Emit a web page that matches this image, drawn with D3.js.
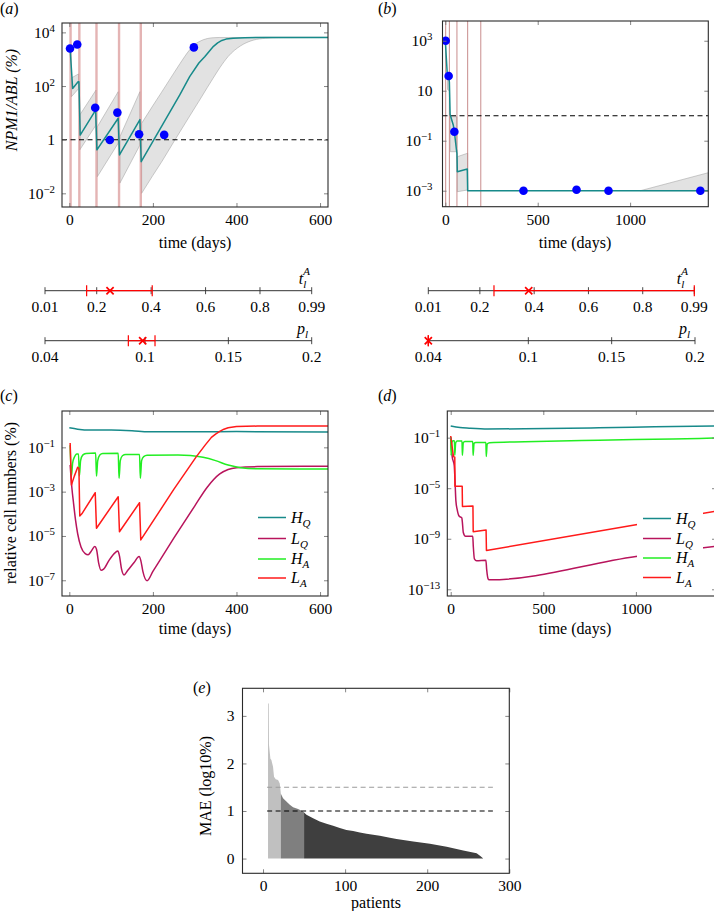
<!DOCTYPE html>
<html><head><meta charset="utf-8">
<script src="https://cdn.jsdelivr.net/npm/d3@7"></script>
<style>body{margin:0;background:#fff} svg{display:block}</style>
</head><body>
<svg id="c" width="714" height="911"></svg>
<script>
// ================= DATA =================
// Panel (a): NPM1/ABL (%) for patient A, values are log10(%)
const aTreatDays = [3, 24, 65, 119, 171];
const aDotDays = [1.7, 19, 62, 97, 115, 167, 227, 298];
const aDotLog = [3.40, 3.55, 1.19, -0.01, 1.01, 0.20, 0.18, 3.44];
const aLineDays = [0, 2, 8, 21, 23, 26, 63, 66, 117, 120, 169, 172, 264, 288, 310, 324, 335, 345, 355, 365, 375, 392, 420, 450, 620];
const aLineLog = [3.42, 3.38, 1.91, 2.16, 2.16, 0.17, 1.1, -0.38, 0.8, -0.57, 0.75, -0.82, 1.66, 2.35, 2.86, 3.09, 3.3, 3.48, 3.61, 3.7, 3.75, 3.78, 3.8, 3.81, 3.81];
const aBandSeg = [1, 1, 2, 2, 3, 3, 4, 4, 5, 5, 5, 5, 5, 5, 5, 5, 5, 5, 5, 5, 5, 5, 5, 5, 5];
const aBandDays = [5, 22, 25, 64, 67, 117, 121, 169, 173, 200, 220, 250, 265, 288, 300, 310, 330, 344, 360, 380, 410, 440, 470, 500, 620];
const aBandLo = [1.6, 1.9, -0.38, 0.55, -1.38, -0.13, -1.62, -0.2, -2.0, -1.33, -0.85, -0.08, 0.30, 0.88, 1.18, 1.43, 1.94, 2.29, 2.68, 3.1, 3.5, 3.71, 3.78, 3.8, 3.81];
const aBandHi = [2.3, 2.45, 0.92, 1.85, 0.48, 1.79, 0.11, 1.79, 0.61, 1.27, 1.75, 2.48, 2.84, 3.35, 3.55, 3.65, 3.77, 3.8, 3.81, 3.81, 3.81, 3.81, 3.82, 3.82, 3.82];

// Panel (b): patient B
const bTreatDays = [2, 22, 63, 121, 192];
const bDotDays = [2, 18, 49, 423, 710, 883, 1380];
const bDotLog = [3.0, 1.59, -0.64, -3.0, -2.96, -3.0, -3.0];
const bLineDays = [0, 10, 18, 22, 26, 43, 49, 61, 63, 65, 119, 121, 1423];
const bLineLog = [3.0, 1.75, 1.59, 1.35, 0.05, -0.37, -0.64, -1.41, -1.5, -2.24, -2.13, -3.0, -3.0];
const bBandSeg = [1, 1, 2, 2, 3, 3, 4, 4];
const bBandDays = [12, 22, 27, 63, 65, 121, 1055, 1423];
const bBandLo = [1.05, 1.0, -1.44, -1.44, -3.04, -2.97, -3.0, -3.0];
const bBandHi = [1.7, 1.6, -0.04, -0.04, -1.64, -1.5, -3.0, -2.28];

// Slider axes (parameter estimates)
const tTicks = [0.01, 0.2, 0.4, 0.6, 0.8, 0.99];
const pTicks = [0.04, 0.1, 0.15, 0.2];
const aTInterval = [0.163, 0.404], aTBest = 0.249;
const aPInterval = [0.09, 0.106], aPBest = 0.0986;
const bTInterval = [0.252, 0.99], bTBest = 0.38;
const bPInterval = [0.04, 0.04], bPBest = 0.04;

// Panel (c): relative cell numbers (log10 %), patient A
const cSeries = ["HQ", "LQ", "HA", "LA"];
const cHQDays = [0, 20, 50, 100, 150, 190, 250, 400, 620];
const cHQLog = [-0.12, -0.18, -0.22, -0.22, -0.25, -0.3, -0.3, -0.29, -0.31];
const cLQDays = [2, 6, 10, 15, 20, 28, 38, 45, 52, 61, 65, 70, 76, 82, 95, 110, 116, 120, 125, 131, 140, 155, 167, 171, 176, 186, 200, 250, 300, 330, 360, 380, 400, 450, 620];
const cLQLog = [-1.8, -2.8, -3.5, -4.3, -4.9, -5.5, -5.8, -5.85, -5.7, -5.48, -5.6, -6.2, -6.55, -6.5, -6.1, -5.75, -5.68, -5.9, -6.5, -6.76, -6.55, -6.2, -5.93, -6.1, -6.6, -7.02, -6.6, -5.1, -3.65, -2.8, -2.2, -2.0, -1.92, -1.87, -1.85];
const cHADays = [2, 5, 8, 12, 18, 22, 24, 27, 32, 40, 63, 65, 68, 73, 80, 117, 119, 122, 127, 135, 168, 170, 173, 178, 186, 260, 290, 320, 350, 380, 410, 450, 620];
const cHALog = [-0.9, -2.3, -1.7, -1.45, -1.3, -1.3, -2.3, -1.6, -1.35, -1.28, -1.26, -2.3, -1.6, -1.35, -1.28, -1.27, -2.4, -1.6, -1.38, -1.32, -1.32, -2.4, -1.6, -1.42, -1.36, -1.35, -1.37, -1.45, -1.6, -1.8, -1.92, -1.97, -1.98];
const cLADays = [2, 5, 12, 20, 23, 25, 30, 62, 65, 117, 120, 168, 171, 250, 304, 325, 340, 350, 360, 370, 380, 400, 450, 620];
const cLALog = [-0.8, -2.7, -2.3, -1.9, -1.95, -4.1, -4.0, -3.05, -4.65, -3.23, -4.81, -3.5, -5.18, -2.9, -1.42, -0.9, -0.55, -0.4, -0.28, -0.18, -0.12, -0.06, -0.04, -0.04];

// Panel (d): relative cell numbers (log10 %), patient B
const dHQDays = [0, 50, 100, 200, 400, 800, 1100, 1430];
const dHQLog = [-0.08, -0.2, -0.25, -0.31, -0.3, -0.22, -0.14, -0.07];
const dLQDays = [0, 8, 19, 22, 28, 35, 45, 60, 63, 68, 80, 119, 122, 128, 140, 190, 194, 203, 210, 1000, 1430];
const dLQLog = [-1.0, -2.5, -3.2, -4.0, -6.0, -6.7, -7.2, -7.35, -7.7, -8.5, -8.8, -8.8, -9.6, -10.6, -10.75, -10.7, -11.4, -12.2, -12.25, -10.4, -9.6];
const dHADays = [0, 2, 6, 12, 20, 22, 27, 35, 61, 63, 68, 76, 119, 121, 126, 135, 190, 192, 197, 210, 400, 800, 1200, 1430];
const dHALog = [-0.95, -2.4, -1.4, -1.25, -1.25, -2.4, -1.4, -1.27, -1.27, -2.4, -1.4, -1.3, -1.3, -2.4, -1.45, -1.38, -1.38, -2.5, -1.5, -1.4, -1.32, -1.2, -1.1, -1.03];
const dLADays = [0, 15, 22, 23, 62, 63.5, 120, 121.5, 191, 193, 1000, 1430];
const dLALog = [-0.87, -2.5, -2.55, -4.85, -4.85, -6.45, -6.4, -8.45, -8.3, -9.93, -7.9, -6.82];

// Panel (e): MAE per patient (sorted)
const ePatients = [6.1, 7.0, 7.3, 9, 10.2, 12.2, 13.4, 15.5, 18.3, 20.4, 21.6, 24.4, 28.5, 32.6, 36.6, 42.7, 48.8, 50, 52.9, 61, 69.1, 77.3, 85.4, 93.5, 101.6, 109.8, 117.9, 126.1, 134.1, 142.3, 154.5, 162.7, 183, 203.3, 223.7, 243.9, 260.2, 264.3, 268.3];
const eMAE = [3.26, 3.26, 2.39, 2.1, 2.07, 1.93, 1.72, 1.67, 1.65, 1.58, 1.37, 1.27, 1.2, 1.13, 1.08, 1.04, 0.99, 0.97, 0.92, 0.85, 0.78, 0.73, 0.69, 0.64, 0.60, 0.58, 0.55, 0.52, 0.5, 0.48, 0.44, 0.41, 0.36, 0.31, 0.25, 0.17, 0.11, 0.06, 0.0];
const eGroupEdges = [6.1, 21.6, 50, 268.3];
const eGroupColors = ["#c0c0c0", "#7f7f7f", "#3f3f3f"];
const eThresholds = [1.5, 1.0];
const eThresholdColors = ["#9a9a9a", "#000"];

// ================= DRAWING =================
const FONT = "'Liberation Serif','Times New Roman',serif";
const TS = 15.5, LS = 16;
const svg = d3.select("#c");
const defs = svg.append("defs");
const TEAL = "#178a8a", LQC = "#b8145c", HAC = "#22ee22", LAC = "#ff1a1a";
const P10 = v => Math.pow(10, v);

function zip(xs, ys) { return xs.map((t, i) => ({ t, v: ys[i] })); }

function supText(sel, e) {
  sel.text(null);
  if (e === 0) { sel.append("tspan").text("1"); return; }
  if (e === 1) { sel.append("tspan").text("10"); return; }
  sel.append("tspan").text("10");
  sel.append("tspan").attr("dy", -6).attr("font-size", TS * 0.7).text(e < 0 ? "\u2212" + (-e) : String(e));
}

function styleAxis(g) {
  g.select(".domain").remove();
  g.selectAll("line").attr("stroke", "#777").attr("stroke-width", 0.9);
  g.selectAll("text").attr("font-family", FONT).attr("font-size", TS).attr("fill", "#000");
}

function axes(box, x, y, xTicks, yTicks, logY, yPad) {
  const g = svg.append("g");
  const gb = g.append("g").attr("transform", `translate(0,${box.y1})`)
    .call(d3.axisBottom(x).tickValues(xTicks).tickSizeInner(-4).tickSizeOuter(0).tickPadding(7).tickFormat(d3.format("d")));
  styleAxis(gb);
  const gt = g.append("g").attr("transform", `translate(0,${box.y0})`)
    .call(d3.axisTop(x).tickValues(xTicks).tickSizeInner(-4).tickSizeOuter(0).tickFormat(""));
  styleAxis(gt);
  const yv = logY ? yTicks.map(P10) : yTicks;
  const gl = g.append("g").attr("transform", `translate(${box.x0},0)`)
    .call(d3.axisLeft(y).tickValues(yv).tickSizeInner(-4).tickSizeOuter(0).tickPadding(yPad).tickFormat(d => String(d)));
  styleAxis(gl);
  if (logY) gl.selectAll(".tick text").each(function (d, i) { supText(d3.select(this), yTicks[i]); });
  const gr = g.append("g").attr("transform", `translate(${box.x1},0)`)
    .call(d3.axisRight(y).tickValues(yv).tickSizeInner(-4).tickSizeOuter(0).tickFormat(""));
  styleAxis(gr);
  g.append("rect").attr("x", box.x0).attr("y", box.y0).attr("width", box.x1 - box.x0).attr("height", box.y1 - box.y0)
    .attr("fill", "none").attr("stroke", "#2a2a2a").attr("stroke-width", 1.1);
}

function clip(id, box) {
  defs.append("clipPath").attr("id", id).append("rect")
    .attr("x", box.x0).attr("y", box.y0).attr("width", box.x1 - box.x0).attr("height", box.y1 - box.y0);
  return svg.append("g").attr("clip-path", `url(#${id})`);
}

function text(x, y, str, opts = {}) {
  return svg.append("text").attr("x", x).attr("y", y).attr("font-family", FONT)
    .attr("font-size", opts.size || LS).attr("text-anchor", opts.anchor || "start")
    .attr("font-style", opts.italic ? "italic" : "normal").text(str);
}

function panelLabel(x, y, letter) {
  const t = svg.append("text").attr("x", x).attr("y", y).attr("font-family", FONT).attr("font-size", LS);
  t.append("tspan").text("(");
  t.append("tspan").attr("font-style", "italic").text(letter);
  t.append("tspan").text(")");
}

function yLabel(x, yc, build) {
  const t = svg.append("text").attr("transform", `translate(${x},${yc}) rotate(-90)`)
    .attr("text-anchor", "middle").attr("font-family", FONT).attr("font-size", LS);
  build(t);
}

function timePanel(box, xDom, yDom, id) {
  const x = d3.scaleLinear().domain(xDom).range([box.x0, box.x1]);
  const y = d3.scaleLog().domain([P10(yDom[0]), P10(yDom[1])]).range([box.y1, box.y0]);
  const g = clip(id, box);
  return { x, y, g };
}

function drawBand(p, seg, days, lo, hi) {
  const rows = days.map((t, i) => ({ s: seg[i], t, lo: lo[i], hi: hi[i] }));
  const area = d3.area().x(d => p.x(d.t)).y0(d => p.y(P10(d.lo))).y1(d => p.y(P10(d.hi))).curve(d3.curveMonotoneX);
  for (const [, rs] of d3.group(rows, d => d.s)) {
    p.g.append("path").attr("d", area(rs)).attr("fill", "#e2e2e2").attr("stroke", "#a8a8a8").attr("stroke-width", 0.6);
  }
}

function drawTreat(p, days, box, color, width) {
  p.g.selectAll(null).data(days).join("line")
    .attr("x1", d => p.x(d)).attr("x2", d => p.x(d)).attr("y1", box.y0).attr("y2", box.y1)
    .attr("stroke", color).attr("stroke-width", width);
}

function drawDashed(p, box, v) {
  p.g.append("line").attr("x1", box.x0).attr("x2", box.x1).attr("y1", p.y(v)).attr("y2", p.y(v))
    .attr("stroke", "#000").attr("stroke-width", 1.1).attr("stroke-dasharray", "5,3.5");
}

function drawLine(p, days, logs, color, curve, width) {
  const line = d3.line().x(d => p.x(d.t)).y(d => p.y(P10(d.v))).curve(curve || d3.curveLinear);
  p.g.append("path").attr("d", line(zip(days, logs))).attr("fill", "none").attr("stroke", color)
    .attr("stroke-width", width || 1.5).attr("stroke-linejoin", "round");
}

function drawDots(p, days, logs) {
  p.g.selectAll(null).data(zip(days, logs)).join("circle")
    .attr("cx", d => p.x(d.t)).attr("cy", d => p.y(P10(d.v))).attr("r", 4.3).attr("fill", "#0000ff");
}

// ---------- Panel (a) ----------
const boxA = { x0: 62, x1: 328, y0: 23, y1: 207 };
const pa = timePanel(boxA, [-17.5, 619], [-2.51, 4.35], "clipA");
drawBand(pa, aBandSeg, aBandDays, aBandLo, aBandHi);
drawTreat(pa, aTreatDays, boxA, "rgba(214,140,140,0.65)", 2.4);
drawDashed(pa, boxA, 1);
drawLine(pa, aLineDays, aLineLog, TEAL, d3.curveLinear, 1.5);
drawDots(pa, aDotDays, aDotLog);
axes(boxA, pa.x, pa.y, [0, 200, 400, 600], [-2, 0, 2, 4], true, 7);
panelLabel(0, 14, "a");
text(195, 248, "time (days)", { anchor: "middle" });
yLabel(17, 100, t => { t.append("tspan").attr("font-style", "italic").text("NPM1/ABL"); t.append("tspan").attr("font-style", "italic").text(" (%)"); });

// ---------- Panel (b) ----------
const boxB = { x0: 442.5, x1: 708.3, y0: 21, y1: 206.7 };
const pb = timePanel(boxB, [-15.2, 1423], [-3.64, 3.79], "clipB");
drawBand(pb, bBandSeg, bBandDays, bBandLo, bBandHi);
drawTreat(pb, bTreatDays, boxB, "rgba(190,120,120,0.85)", 1);
drawDashed(pb, boxB, 1);
drawLine(pb, bLineDays, bLineLog, TEAL, d3.curveLinear, 1.5);
drawDots(pb, bDotDays, bDotLog);
axes(boxB, pb.x, pb.y, [0, 500, 1000], [-3, -1, 1, 3], true, 10);
panelLabel(378, 14, "b");
text(575, 248, "time (days)", { anchor: "middle" });

// ---------- Sliders ----------
function slider(x0, x1, yPos, domain, ticks, interval, best, labelX, labelY, isT) {
  const s = d3.scaleLinear().domain(domain).range([x0, x1]);
  const g = svg.append("g");
  g.append("line").attr("x1", x0).attr("x2", x1).attr("y1", yPos).attr("y2", yPos).attr("stroke", "#333").attr("stroke-width", 1);
  g.selectAll(null).data(ticks).join("line")
    .attr("x1", d => s(d)).attr("x2", d => s(d)).attr("y1", yPos - 3.5).attr("y2", yPos + 3.5)
    .attr("stroke", "#333").attr("stroke-width", 0.9);
  g.selectAll(null).data(ticks).join("text")
    .attr("x", d => s(d)).attr("y", yPos + 21).attr("text-anchor", "middle")
    .attr("font-family", FONT).attr("font-size", TS).text(d => String(d));
  g.append("line").attr("x1", s(interval[0])).attr("x2", s(interval[1])).attr("y1", yPos).attr("y2", yPos)
    .attr("stroke", "#ff0000").attr("stroke-width", 1.2);
  g.selectAll(null).data(interval).join("line")
    .attr("x1", d => s(d)).attr("x2", d => s(d)).attr("y1", yPos - 5.5).attr("y2", yPos + 5.5)
    .attr("stroke", "#ff0000").attr("stroke-width", 1.2);
  const bx = s(best), r = 3.6;
  g.append("path").attr("d", `M${bx - r},${yPos - r}L${bx + r},${yPos + r}M${bx - r},${yPos + r}L${bx + r},${yPos - r}`)
    .attr("stroke", "#ff0000").attr("stroke-width", 1.7).attr("fill", "none");
  const t = g.append("text").attr("x", labelX).attr("y", labelY).attr("text-anchor", "end")
    .attr("font-family", FONT).attr("font-size", LS).attr("font-style", "italic");
  if (isT) {
    t.append("tspan").text("t");
    t.append("tspan").attr("font-size", 11).attr("dy", 4).text("l");
    t.append("tspan").attr("font-size", 11).attr("dx", -3).attr("dy", -13).text("A");
  } else {
    t.append("tspan").text("p");
    t.append("tspan").attr("font-size", 11).attr("dy", 4).text("l");
  }
}
slider(45, 311.7, 290.7, [0.01, 0.99], tTicks, aTInterval, aTBest, 310, 284, true);
slider(45, 311.7, 340.7, [0.04, 0.2], pTicks, aPInterval, aPBest, 308, 334, false);
slider(428.3, 694.3, 290.7, [0.01, 0.99], tTicks, bTInterval, bTBest, 688, 284, true);
slider(428.3, 695, 340.7, [0.04, 0.2], pTicks, bPInterval, bPBest, 690, 334, false);

// ---------- Legends ----------
function legend(x, ys, colors, rectX, rectW) {
  svg.append("rect").attr("x", rectX).attr("y", 505).attr("width", rectW).attr("height", 84).attr("fill", "#fff");
  cSeries.forEach((s, i) => {
    svg.append("line").attr("x1", x).attr("x2", x + 28).attr("y1", ys[i]).attr("y2", ys[i])
      .attr("stroke", colors[i]).attr("stroke-width", 1.5);
    const t = svg.append("text").attr("x", x + 33).attr("y", ys[i] + 5).attr("font-family", FONT)
      .attr("font-size", LS).attr("font-style", "italic");
    t.append("tspan").text(s[0]);
    t.append("tspan").attr("font-size", 11).attr("dy", 4).text(s[1]);
  });
}
const cColors = [TEAL, LQC, HAC, LAC];

// ---------- Panel (c) ----------
const boxC = { x0: 62, x1: 328, y0: 411, y1: 596 };
const pc = timePanel(boxC, [-17.5, 619], [-7.71, 0.64], "clipC");
drawLine(pc, cHQDays, cHQLog, TEAL, d3.curveMonotoneX);
drawLine(pc, cLQDays, cLQLog, LQC, d3.curveMonotoneX);
drawLine(pc, cHADays, cHALog, HAC, d3.curveMonotoneX);
drawLine(pc, cLADays, cLALog, LAC, d3.curveLinear);
legend(258, [517.5, 538.5, 559, 578], cColors, 253, 66);
axes(boxC, pc.x, pc.y, [0, 200, 400, 600], [-7, -5, -3, -1], true, 7);
panelLabel(0, 401, "c");
text(195, 634, "time (days)", { anchor: "middle" });
yLabel(16, 503, t => t.text("relative cell numbers (%)"));

// ---------- Panel (d) ----------
const boxD = { x0: 447.3, x1: 716, y0: 411, y1: 596 };
const pd = timePanel(boxD, [-18.4, 1432.5], [-13.53, 1.11], "clipD");
drawLine(pd, dHQDays, dHQLog, TEAL, d3.curveMonotoneX);
drawLine(pd, dLQDays, dLQLog, LQC, d3.curveMonotoneX);
drawLine(pd, dHADays, dHALog, HAC, d3.curveMonotoneX);
drawLine(pd, dLADays, dLALog, LAC, d3.curveLinear);
legend(643, [518.5, 538.5, 558, 577.5], cColors, 637, 66);
axes(boxD, pd.x, pd.y, [0, 500, 1000], [-13, -9, -5, -1], true, 7);
panelLabel(378, 401, "d");
text(575, 634, "time (days)", { anchor: "middle" });

// ---------- Panel (e) ----------
const boxE = { x0: 242.5, x1: 509.3, y0: 688.3, y1: 873.3 };
const xe = d3.scaleLinear().domain([-25, 300]).range([boxE.x0, boxE.x1]);
const ye = d3.scaleLinear().domain([-0.31, 3.58]).range([boxE.y1, boxE.y0]);
const ge = clip("clipE", boxE);
const eRows = ePatients.map((p, i) => ({ p, m: eMAE[i] }));
const eArea = d3.area().x(d => xe(d.p)).y0(ye(0)).y1(d => ye(d.m));
eGroupColors.forEach((c, i) => {
  const id = "eg" + i;
  defs.append("clipPath").attr("id", id).append("rect")
    .attr("x", xe(eGroupEdges[i])).attr("width", xe(eGroupEdges[i + 1]) - xe(eGroupEdges[i]))
    .attr("y", boxE.y0).attr("height", boxE.y1 - boxE.y0);
  ge.append("path").attr("d", eArea(eRows)).attr("fill", c).attr("clip-path", `url(#${id})`);
});
eThresholds.forEach((v, i) => {
  ge.append("line").attr("x1", xe(5)).attr("x2", xe(280)).attr("y1", ye(v)).attr("y2", ye(v))
    .attr("stroke", eThresholdColors[i]).attr("stroke-width", 1.1).attr("stroke-dasharray", "5,3.5");
});
axes(boxE, xe, ye, [0, 100, 200, 300], [0, 1, 2, 3], false, 8);
panelLabel(193, 693, "e");
text(376, 908, "patients", { anchor: "middle" });
yLabel(211, 786, t => t.text("MAE (log10%)"));
</script>
</body></html>
